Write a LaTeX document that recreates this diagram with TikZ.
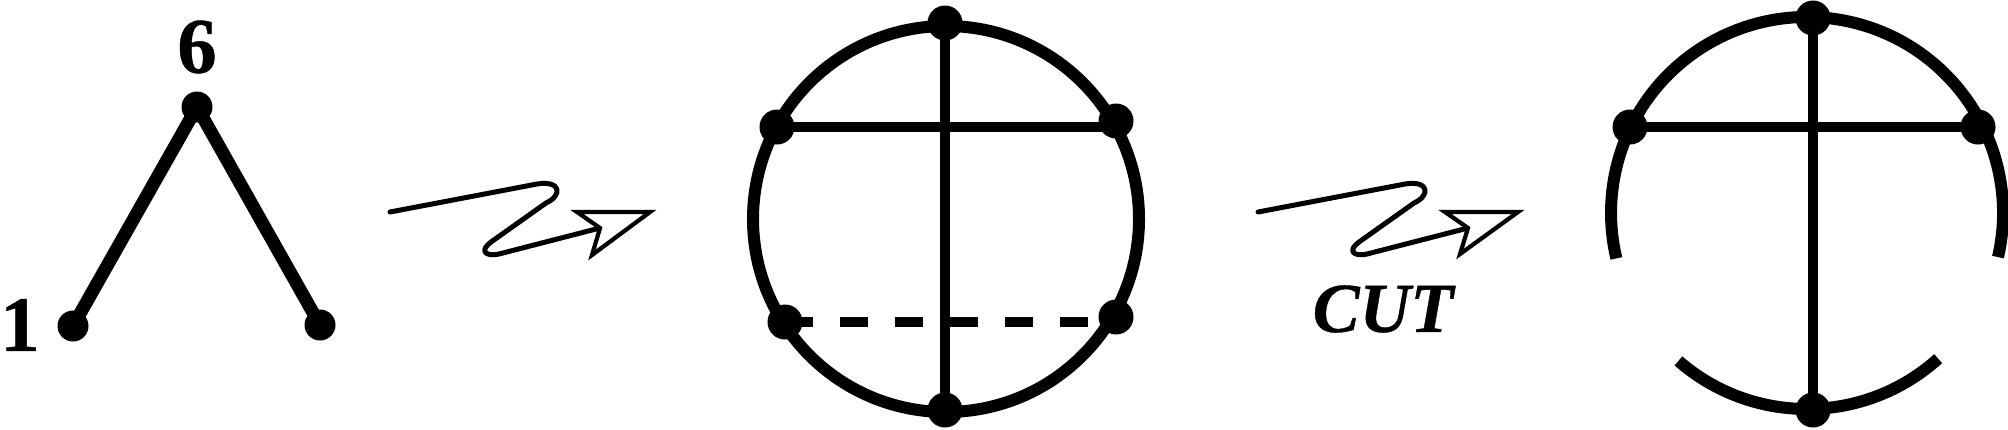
\documentclass[tikz,border=0pt]{standalone}
\usepackage{fontspec}
\setmainfont{Liberation Serif}
\newfontfamily\heavyserif[BoldFeatures={FakeBold=0.6},BoldItalicFeatures={FakeBold=0.6}]{Liberation Serif}
\begin{document}
\begin{tikzpicture}[x=0.1mm,y=-0.1mm,
  treeedge/.style={line width=1.3mm, line join=round},
  smalldot/.style={circle, fill=black, inner sep=0pt, minimum size=3.1mm},
  bigdot/.style={circle, fill=black, inner sep=0pt, minimum size=3.5mm},
  ring/.style={line width=1.2mm},
  chord/.style={line width=1.05mm},
  dashchord/.style={line width=1.0mm, dash pattern=on 2.8mm off 2.7mm},
  squiggle/.style={line width=0.5mm, line join=round, line cap=round},
  openhead/.style={line width=0.42mm, fill=white, line join=miter},
  lbl/.style={inner sep=0pt, font=\heavyserif\fontsize{22.4pt}{24pt}\selectfont\bfseries},
  cutlbl/.style={inner sep=0pt, font=\heavyserif\fontsize{20pt}{22pt}\selectfont\bfseries\itshape}]
\useasboundingbox (0,0) rectangle (2008,429);

% ---- left tree ----
\coordinate (t6) at (197,107);
\coordinate (t1) at (73,326);
\coordinate (t2) at (320,325);
\draw[treeedge] (t1) -- (t6) -- (t2);
\node[smalldot] (d6) at (t6) {};
\node[smalldot] (d1) at (t1) {};
\node[smalldot] (d2) at (t2) {};
\node[lbl] (l6) at (197,47) {6};
\node[lbl] (l1) at (20,325) {1};

% ---- first squiggle arrow ----
\coordinate (a1s) at (390,212);
\coordinate (a1n) at (600,228);
\draw[squiggle] (a1s) -- (537,184) .. controls (562,180) and (562,196) .. (546,203)
  -- (491,242) .. controls (480,250) and (484,257) .. (499,254) -- (a1n);
\draw[openhead] (a1n) -- (577,212) -- (650,212) -- (592,255) -- cycle;

% ---- middle circle ----
\coordinate (mc) at (946,219);
\coordinate (mT) at (945,23);
\coordinate (mB) at (945,410);
\coordinate (mUL) at (777,127);
\coordinate (mUR) at (1116,121);
\coordinate (mLL) at (785,322);
\coordinate (mLR) at (1116,317);
\draw[ring] (mc) circle[radius=19.3mm];
\draw[chord] (mT) -- (mB);
\draw[chord] (mUL) -- (mUL -| mUR);
\draw[dashchord] (mLL) -- (mLL -| mLR);
\foreach \p in {mT,mB,mUL,mUR,mLL,mLR} \node[bigdot] (dot\p) at (\p) {};

% ---- second squiggle arrow ----
\coordinate (a2s) at (1258,212);
\coordinate (a2n) at (1468,228);
\draw[squiggle] (a2s) -- (1405,184) .. controls (1430,180) and (1430,196) .. (1414,203)
  -- (1359,242) .. controls (1348,250) and (1352,257) .. (1367,254) -- (a2n);
\draw[openhead] (a2n) -- (1445,212) -- (1518,212) -- (1460,254) -- cycle;
\node[cutlbl] (cut) at (1383,309) {CUT};

% ---- right cut circle ----
\coordinate (rc) at (1807,213);
\coordinate (rT) at (1813,18);
\coordinate (rB) at (1813,410);
\coordinate (rUL) at (1630,127);
\coordinate (rUR) at (1978,127);
\draw[ring] ([shift={(-13:19.6mm)}]rc) arc[start angle=-13, end angle=193.4, radius=19.6mm];
\draw[ring] ([shift={(229:19.6mm)}]rc) arc[start angle=229, end angle=312, radius=19.6mm];
\draw[chord] (rT) -- (rB);
\draw[chord] (rUL) -- (rUR);
\foreach \p in {rT,rB,rUL,rUR} \node[bigdot] (dot\p) at (\p) {};
\end{tikzpicture}
\end{document}
